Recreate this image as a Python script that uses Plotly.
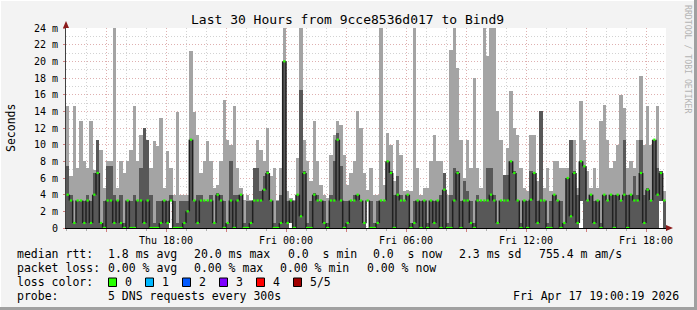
import plotly.graph_objects as go

# ---- data (10-minute bins, Thu 13:00 -> Fri 19:00), values in ms ----
HI = [14.6, 6.2, 14.6, 7.2, 12.8, 8.0, 7.2, 12.8, 7.0, 10.6, 9.4, 4.8, 8.0, 8.0, 24, 4.8, 8.0, 6.6, 8.0, 9.4,
      14.6, 8.0, 11.2, 12.0, 10.6, 7.2, 10.4, 9.8, 13.2, 4.8, 9.2, 7.2, 4.0, 13.9, 4.0, 4.0, 4.0, 21.2, 13.9, 11.2,
      6.6, 8.0, 10.4, 8.0, 4.8,
      5.2, 8.0, 15.4, 10.6, 10.0, 14.6, 7.2, 4.8, 3.4, 4.0, 3.4, 7.2, 10.6, 9.4, 8.0, 12.0, 6.2, 7.2, 3.4, 7.2,
      24, 4.4, 3.6, 3.4, 8.4, 24, 10.6, 8.0, 5.6, 12.8, 8.0, 5.2, 4.0, 3.6, 8.8, 11.2, 12.8, 12.4, 8.8, 5.2,
      6.6, 8.0, 14.0, 12.0, 6.6,
      4.6, 7.2, 4.0, 4.0, 24, 5.2, 11.4, 10.0, 5.6, 10.6, 8.8, 4.4, 4.6, 4.4, 24, 7.2, 4.0, 4.8, 4.8, 8.0,
      11.2, 8.0, 8.0, 6.6, 4.0, 21.4, 24, 19.2, 10.6, 6.0, 10.6, 7.2, 18.0, 7.2, 4.8, 24, 20.6, 24, 24, 14.0,
      10.6, 5.4, 9.6, 16.4, 12.0,
      11.2, 7.2, 4.8, 4.4, 11.2, 11.2, 5.6, 14.0, 4.8, 7.2, 4.4, 8.0, 8.0, 7.2, 7.2, 7.2, 10.6, 10.6, 4.8, 15.2,
      10.6, 6.8, 4.8, 7.2, 4.8, 12.8, 14.8, 10.6, 7.2, 8.0, 10.0, 16.0, 14.4, 7.2, 8.0, 7.2, 10.6, 18.2, 10.0, 14.6,
      10.0, 10.6, 14.6, 6.8, 4.4]

Q3 = [7.4, 4.0, 0.6, 3.3, 3.3, 3.3, 4.0, 3.3, 6.6, 10.6, 0.6, 3.3, 7.4, 7.4, 4.0, 3.3, 4.0, 0.6, 3.3, 3.3,
      4.0, 3.3, 7.2, 12.0, 10.6, 4.0, 0.6, 3.3, 3.3, 3.3, 3.3, 4.0, 3.3, 0.6, 3.3, 3.3, 3.3, 10.6, 3.3, 4.0,
      4.0, 3.3, 3.3, 4.0, 0.6,
      4.2, 4.0, 3.3, 0.6, 8.0, 4.0, 4.0, 4.0, 0.6, 3.3, 3.3, 7.2, 7.2, 4.5, 6.2, 6.8, 3.3, 0.6, 3.3, 4.0,
      20.0, 3.3, 3.3, 3.3, 4.0, 16.6, 6.8, 0.6, 3.3, 4.2, 4.0, 3.3, 3.3, 0.6, 4.0, 8.0, 11.4, 7.4, 3.3, 3.3,
      3.3, 4.0, 4.0, 3.3, 0.6,
      3.3, 3.3, 0.6, 3.3, 3.3, 3.3, 8.0, 6.8, 4.0, 6.2, 4.0, 3.3, 4.0, 0.6, 3.3, 3.3, 3.3, 3.3, 0.6, 3.3,
      3.3, 3.3, 4.0, 6.6, 0.6, 4.0, 7.2, 6.8, 3.3, 5.6, 4.5, 3.3, 0.6, 4.0, 3.3, 3.3, 7.2, 7.2, 4.0, 0.6,
      3.3, 6.4, 6.4, 8.0, 6.8,
      3.4, 0.6, 3.3, 3.3, 6.8, 6.6, 3.3, 14.0, 3.3, 0.6, 3.3, 4.0, 3.3, 3.3, 0.6, 6.0, 10.6, 6.8, 4.0, 8.0,
      7.4, 3.3, 4.0, 3.3, 3.3, 0.6, 4.0, 3.3, 4.0, 4.0, 4.0, 3.3, 10.6, 4.0, 4.0, 6.2, 4.0, 10.6, 4.0, 4.8,
      3.3, 10.6, 7.2, 6.8, 3.3]

MED = [4.0, 3.3, 0.6, 3.3, 3.3, 0.6, 3.3, 0.6, 4.0, 6.6, 0.6, 0, 3.3, 3.3, 0.6, 3.3, 0.6, 0, 3.3, 0,
       0, 3.3, 3.3, 0.6, 3.3, 0, 0, 0, 0.6, 3.3, 0.6, 3.3, 0, 0, 0, 0.6, 2.0, 10.6, 3.3, 0.6,
       3.3, 3.3, 3.3, 3.3, 0.6,
       4.0, 3.3, 0, 0.6, 3.3, 0, 3.3, 4.0, 0, 0, 0.6, 3.3, 3.3, 3.3, 4.6, 6.6, 3.3, 0, 0, 0.6,
       20.0, 0.6, 3.3, 0, 4.0, 1.4, 6.6, 0, 0, 4.0, 3.3, 3.3, 0.6, 0, 3.3, 3.3, 10.6, 3.3, 0, 0.6,
       3.3, 3.3, 4.0, 3.3, 0.6,
       3.3, 0, 0, 0.6, 3.3, 3.3, 8.0, 6.6, 0, 4.0, 3.3, 3.3, 4.0, 0, 0.6, 3.3, 0, 3.3, 0, 3.3,
       0.6, 3.3, 0, 4.6, 0, 0, 3.3, 6.6, 0, 3.3, 3.3, 0.6, 0, 3.3, 3.3, 3.3, 3.3, 4.0, 3.3, 0.6,
       3.3, 3.3, 3.3, 8.0, 6.6,
       3.3, 0, 3.3, 0, 3.4, 6.6, 0.6, 3.3, 3.3, 0, 0, 4.0, 3.3, 0, 0.6, 6.0, 1.4, 6.6, 0.6, 8.0,
       7.4, 3.3, 4.0, 0.6, 3.3, 0, 4.0, 3.3, 4.0, 0, 4.0, 3.3, 4.0, 0, 4.0, 3.3, 3.3, 6.6, 0.6, 4.6,
       3.3, 10.6, 4.0, 6.6, 3.3]

# bins whose smoke does not reach the baseline (lowest ping, ms)
LOW_GAPS = {31: 3.3, 67: 0.6, 90: 3.3, 154: 3.3, 178: 3.3}

X_TICKS = [2, 5, 8, 11, 14, 17, 20, 23, 26, 29]
X_LABELS = ["", "Thu 18:00", "", "Fri 00:00", "", "Fri 06:00", "", "Fri 12:00", "", "Fri 18:00"]
Y_TICKS = list(range(0, 25, 2))
Y_LABELS = ["0"] + [f"{v} m" for v in Y_TICKS[1:]]

LOSS_NAMES = ["0", "1", "2", "3", "4", "5/5"]
LOSS_COLORS = ["#26ff00", "#00b8ff", "#0059ff", "#7e00ff", "#ff0000", "#a10000"]

# ---- geometry ----
W, H = 697, 310
L, R, T, B = 66, 666, 28, 228
PW, PH = R - L, B - T
STEP = 1 / 6.0
N = len(HI)
x_left = [i * STEP for i in range(N)]
x_mid = [v + STEP / 2 for v in x_left]
lo = [LOW_GAPS.get(i, 0.0) for i in range(N)]


def px(x):
    return (x - L) / PW


def py(y):
    return (B - y) / PH


MONO = "DejaVu Sans Mono"

# vertical median transitions (black) and per-bin median ticks (loss colour)
vx, vy = [], []
for i in range(1, N):
    if MED[i] != MED[i - 1]:
        vx += [x_left[i], x_left[i], None]
        vy += [MED[i - 1], MED[i], None]
gx, gy = [], []
for i in range(N):
    half = STEP / 2 if MED[i] == 0 else 0.055
    gx += [x_mid[i] - half, x_mid[i] + half, None]
    gy += [MED[i], MED[i], None]

fig = go.Figure()
fig.add_trace(go.Bar(x=x_mid, y=[h - l for h, l in zip(HI, lo)], base=lo, width=STEP,
                     marker=dict(color="#a4a4a4", line=dict(width=0)), hoverinfo="skip"))
fig.add_trace(go.Bar(x=x_mid, y=[max(q - l, 0) for q, l in zip(Q3, lo)], base=lo, width=STEP,
                     marker=dict(color="#585858", line=dict(width=0)), hoverinfo="skip"))
fig.add_trace(go.Scatter(x=vx, y=vy, mode="lines", line=dict(color="#202020", width=1.5),
                         hoverinfo="skip", connectgaps=False))
fig.add_trace(go.Scatter(x=gx, y=gy, mode="lines", line=dict(color=LOSS_COLORS[0], width=2.2),
                         hoverinfo="skip", connectgaps=False))

MAJ = "#dfb0b0"
MIN = "#d2d2d2"

fig.update_layout(
    width=W, height=H, margin=dict(l=L, r=W - R, t=T, b=H - B, pad=0),
    paper_bgcolor="#f3f3f3", plot_bgcolor="#ffffff",
    barmode="overlay", bargap=0, showlegend=False,
    font=dict(family=MONO, color="#000000"),
    xaxis=dict(range=[0, 30], tickmode="array", tickvals=X_TICKS, ticktext=X_LABELS,
               showgrid=True, gridcolor=MAJ, griddash="1px,2px", gridwidth=1,
               ticks="outside", ticklen=3, tickcolor="#d08080",
               tickfont=dict(family=MONO, size=10, color="#000"),
               showline=True, linecolor="#000000", linewidth=1, zeroline=False,
               minor=dict(tickmode="linear", tick0=0, dtick=1, showgrid=True, gridcolor=MIN,
                          griddash="1px,2px", ticks="outside", ticklen=2, tickcolor="#b0b0b0"),
               fixedrange=True),
    yaxis=dict(range=[0, 24], tickmode="array", tickvals=Y_TICKS, ticktext=Y_LABELS,
               showgrid=True, gridcolor=MAJ, griddash="1px,2px", gridwidth=1,
               ticks="outside", ticklen=2, tickcolor="#d08080", ticklabelstandoff=3,
               tickfont=dict(family=MONO, size=10, color="#000"),
               showline=True, linecolor="#404040", linewidth=1, zeroline=False,
               minor=dict(tickmode="linear", tick0=0, dtick=1, showgrid=True, gridcolor=MIN,
                          griddash="1px,2px"),
               fixedrange=True),
)

ann = []


def text(x, y, s, size=11.5, anchor="left", color="#000000", angle=0):
    ann.append(dict(x=px(x), y=py(y), xref="paper", yref="paper", text=s, showarrow=False,
                    xanchor=anchor, yanchor="middle", borderpad=0, textangle=angle,
                    font=dict(family=MONO, size=size, color=color)))


text(347.5, 19, "Last 30 Hours from 9cce8536d017 to Bind9", size=13, anchor="center")
text(11, 128, "Seconds", size=11.5, anchor="center", angle=-90)
text(688, 59, "RRDTOOL / TOBI OETIKER", size=8.2, anchor="center", color="#b4b4b4", angle=90)

rows = [
    (254, [(16, "median rtt:"), (107, "1.8 ms avg"), (193, "20.0 ms max"), (287, "0.0  s min"),
           (372, "0.0  s now"), (458, "2.3 ms sd"), (538, "755.4 m am/s")]),
    (268, [(16, "packet loss:"), (107, "0.00 % avg"), (193, "0.00 % max"), (279, "0.00 % min"),
           (366, "0.00 % now")]),
    (282, [(16, "loss color:")]),
    (296, [(16, "probe:"), (107, "5 DNS requests every 300s")]),
]
for yy, pieces in rows:
    for xx, s in pieces:
        text(xx, yy, s.replace(" ", "&nbsp;") if "  " in s else s)
text(680, 296, "Fri Apr 17 19:00:19 2026", anchor="right")

box_x = [108.5, 145.5, 182.5, 219.5, 256.5, 293.5]
shapes = []
for bx, name, col in zip(box_x, LOSS_NAMES, LOSS_COLORS):
    shapes.append(dict(type="rect", xref="paper", yref="paper", x0=px(bx), x1=px(bx + 8),
                       y0=py(286.5), y1=py(278), fillcolor=col, line=dict(color="#000000", width=1)))
    text(bx + 15, 282, name)

# frame and axis arrows
shapes.append(dict(type="rect", xref="paper", yref="paper", x0=px(694), x1=px(697), y0=py(310), y1=py(0),
                   fillcolor="#a0a0a0", line=dict(width=0), layer="below"))
shapes.append(dict(type="rect", xref="paper", yref="paper", x0=px(0), x1=px(697), y0=py(310), y1=py(307),
                   fillcolor="#a0a0a0", line=dict(width=0), layer="below"))
shapes.append(dict(type="rect", xref="paper", yref="paper", x0=px(0), x1=px(694), y0=py(1), y1=py(0),
                   fillcolor="#ffffff", line=dict(width=0), layer="below"))
shapes.append(dict(type="rect", xref="paper", yref="paper", x0=px(0), x1=px(1), y0=py(307), y1=py(0),
                   fillcolor="#ffffff", line=dict(width=0), layer="below"))
shapes.append(dict(type="path", xref="paper", yref="paper",
                   path=f"M {px(66)} {py(21)} L {px(63)} {py(28)} L {px(69)} {py(28)} Z",
                   fillcolor="#8b1a1a", line=dict(width=0)))
shapes.append(dict(type="path", xref="paper", yref="paper",
                   path=f"M {px(673)} {py(228)} L {px(666)} {py(225)} L {px(666)} {py(231)} Z",
                   fillcolor="#8b1a1a", line=dict(width=0)))

fig.update_layout(annotations=ann, shapes=shapes)
fig.write_html("out.html")
